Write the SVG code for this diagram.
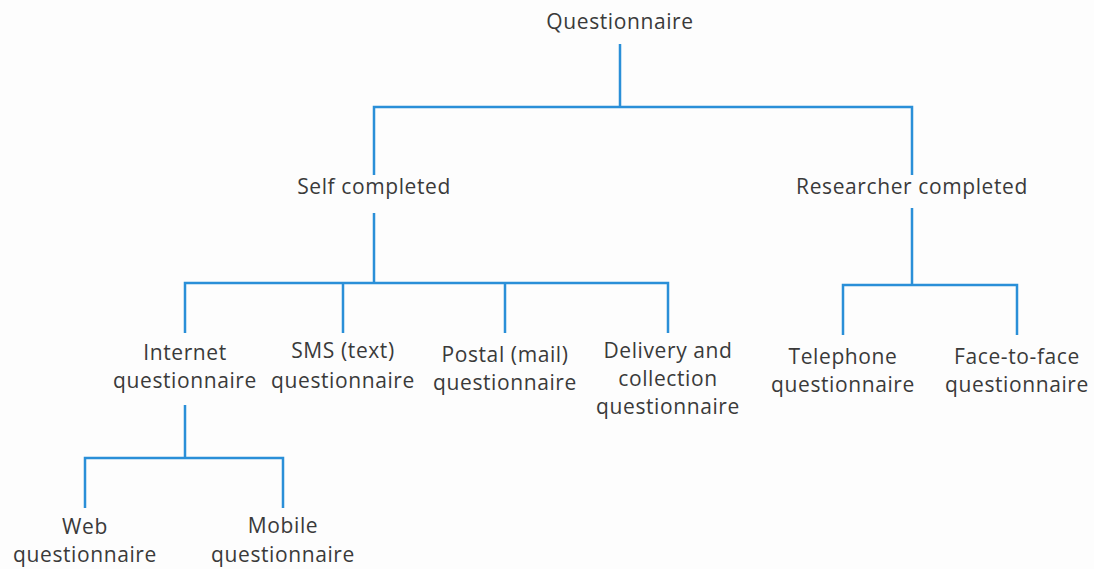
<svg xmlns="http://www.w3.org/2000/svg" width="1094" height="569" viewBox="0 0 1094 569">
<style>
text{font-family:"Open Sans","Noto Sans",sans-serif;font-size:21px;fill:#3a3a3a;text-anchor:middle;letter-spacing:0.6px}
.c{stroke:#2a8fd8;stroke-width:2.5;fill:none}
</style>
<rect width="1094" height="569" fill="#fdfdfd"/>
<g id="connectors" class="c">
<path d="M620,44V107M374,175V107H912V175"/>
<path d="M374,213V283M185,333V283H668V333M343,283V333M505,283V333"/>
<path d="M912,208V285M843,335V285H1017V335"/>
<path d="M185,405V458M85,508V458H283V508"/>
</g>
<g id="n-questionnaire"><text x="620" y="29">Questionnaire</text></g>
<g id="n-self"><text x="374" y="194">Self completed</text></g>
<g id="n-researcher"><text x="912" y="194">Researcher completed</text></g>
<g id="n-internet"><text x="185" y="360">Internet</text><text x="185" y="388">questionnaire</text></g>
<g id="n-sms"><text x="343" y="358">SMS (text)</text><text x="343" y="388">questionnaire</text></g>
<g id="n-postal"><text x="505" y="362">Postal (mail)</text><text x="505" y="390">questionnaire</text></g>
<g id="n-delivery"><text x="668" y="358">Delivery and</text><text x="668" y="386">collection</text><text x="668" y="414">questionnaire</text></g>
<g id="n-telephone"><text x="843" y="364">Telephone</text><text x="843" y="392">questionnaire</text></g>
<g id="n-face"><text x="1017" y="364">Face-to-face</text><text x="1017" y="392">questionnaire</text></g>
<g id="n-web"><text x="85" y="534">Web</text><text x="85" y="562">questionnaire</text></g>
<g id="n-mobile"><text x="283" y="533">Mobile</text><text x="283" y="562">questionnaire</text></g>
</svg>
